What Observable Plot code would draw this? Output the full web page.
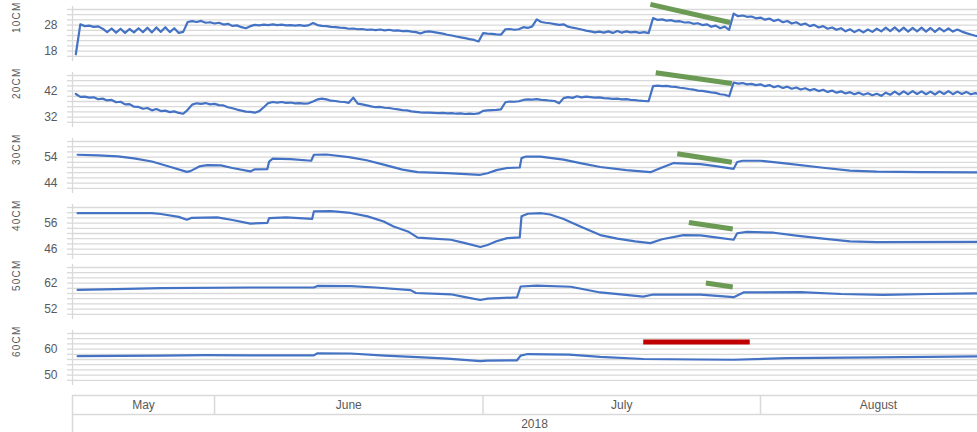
<!DOCTYPE html>
<html><head><meta charset="utf-8">
<script src="https://cdn.jsdelivr.net/npm/d3@7"></script>
<script src="https://cdn.jsdelivr.net/npm/@observablehq/plot@0.6"></script>
<style>
html,body{margin:0;padding:0;overflow:hidden;background:#fff;width:977px;height:432px}
#chart{position:relative;width:1000px;height:432px}
#chart svg{position:absolute;left:0}
</style></head><body><div id="chart"></div>
<script>
// ---------- data ----------
const depthLabels = ["10CM", "20CM", "30CM", "40CM", "50CM", "60CM"];
const yDomains = [[16, 34], [30, 48], [42, 60], [44, 62], [50, 68], [48, 66]];
const labelTicks = [[18, 28], [32, 42], [44, 54], [46, 56], [52, 62], [50, 60]];
const months = ["May", "June", "July", "August"];
const monthStarts = ["2018-05-01", "2018-06-01", "2018-07-01", "2018-08-01", "2018-09-01"];
const yearLabel = ["2018"];

// 10 CM, 12-hourly readings from 2018-05-16 12:00
const s10 = [
16.8, 28.3, 27.6, 27.8, 27.3, 27.5,
26.6, 25.3, 26.7, 25.1, 26.6, 25.0, 26.5, 25.2, 26.8, 25.3,
27.0, 25.2, 27.1, 25.4, 27.2, 25.3, 26.8, 25.0, 25.4,
29.2, 29.5, 29.2, 29.6, 28.9, 29.1, 28.6, 28.9, 28.2, 28.5,
27.7, 27.9, 27.2, 26.8, 27.6, 28.1, 27.9, 28.2, 28.0, 28.3,
28.0, 28.2, 27.9, 28.0, 27.8, 28.0, 27.7, 27.9, 28.8, 28.0,
27.7, 27.6, 27.3, 27.2, 27.0, 26.9, 26.6, 26.7, 26.4, 26.5,
26.2, 26.3, 26.1, 26.3, 26.0, 26.2, 25.9, 26.0, 25.7, 25.8,
25.5, 25.3, 24.8, 25.4, 25.6, 25.3, 25.0, 24.7, 24.3, 24.0,
23.6, 23.3, 23.0, 22.6, 22.3, 21.7, 24.9, 24.7, 24.6, 24.4,
24.3, 26.4, 26.5, 26.2, 26.4, 27.2, 26.9, 27.5, 30.2, 29.2,
28.9, 28.7, 28.4, 28.1, 28.3, 27.4, 27.0, 26.7, 26.3, 25.9,
25.6, 25.2, 25.5, 25.1, 25.6, 25.0, 25.7, 25.1, 25.6, 25.2,
25.4, 25.0, 25.3, 24.9, 30.7, 30.0, 30.2, 29.7, 29.9, 29.4,
29.5, 29.0, 29.1, 28.5, 28.7, 28.0, 28.3, 27.4, 27.8, 26.8,
27.4, 26.2, 32.4, 31.4, 31.7, 31.2, 31.3, 30.6, 30.9, 30.1,
30.5, 29.6, 30.1, 29.1, 29.6, 28.6, 29.1, 28.1, 28.6, 27.6,
28.1, 27.1, 27.6, 26.6, 27.1, 26.2, 26.8, 25.6, 26.4, 25.3,
26.2, 25.2, 26.3, 25.4, 26.6, 25.6, 27.0, 25.7, 27.1, 25.6,
27.0, 25.5, 26.9, 25.6, 27.0, 25.5, 26.9, 25.4, 26.8, 25.6,
26.7, 25.5, 26.3, 25.5, 24.9, 24.4, 23.9, 23.6
];
// 20 CM, 12-hourly readings from 2018-05-16 12:00
const s20 = [
40.9, 39.8, 39.9, 39.5, 39.6, 38.9,
39.1, 38.4, 38.6, 37.7, 37.9, 36.9, 37.0, 36.0, 35.9, 35.2,
35.5, 34.6, 35.1, 34.3, 34.5, 33.9, 34.2, 33.6, 33.3,
34.8, 36.8, 37.3, 37.1, 37.4, 36.9, 37.1, 36.6, 36.5, 35.8,
35.4, 34.9, 34.5, 34.1, 34.0, 33.7, 34.3, 35.8, 37.4, 37.8,
37.6, 37.8, 37.5, 37.6, 37.3, 37.4, 37.2, 37.3, 38.0, 38.8,
39.1, 38.8, 38.3, 38.2, 37.9, 37.8, 37.5, 39.5, 37.2, 36.9,
36.5, 36.1, 35.8, 35.9, 35.6, 35.5, 35.2, 35.0, 34.7, 34.6,
34.2, 34.0, 33.8, 33.7, 33.7, 33.6, 33.5, 33.6, 33.4, 33.5,
33.3, 33.4, 33.2, 33.3, 33.2, 33.4, 34.4, 34.6, 34.7, 34.8,
35.0, 37.7, 38.0, 37.9, 38.1, 38.6, 38.8, 38.7, 38.9, 38.6,
38.5, 38.3, 38.2, 37.3, 39.3, 39.7, 39.4, 40.0, 39.6, 39.9,
39.7, 39.5, 39.6, 39.3, 39.2, 39.0, 39.1, 38.8, 38.9, 38.6,
38.5, 38.3, 38.2, 38.1, 43.9, 44.1, 43.9, 44.0, 43.7, 43.6,
43.3, 43.1, 42.8, 42.6, 42.2, 42.1, 41.8, 41.5, 41.3, 40.8,
40.6, 40.0, 45.3, 44.9, 45.1, 44.6, 44.8, 44.3, 44.6, 43.9,
44.3, 43.5, 44.0, 43.2, 43.7, 42.9, 43.4, 42.6, 43.1, 42.3,
42.8, 42.0, 42.5, 41.7, 42.2, 41.4, 41.9, 41.1, 41.6, 40.8,
41.4, 40.6, 41.2, 40.4, 41.0, 40.2, 41.4, 40.6, 41.8, 40.7,
41.9, 40.8, 42.0, 40.9, 41.9, 40.8, 41.8, 40.7, 41.9, 40.9,
42.0, 40.8, 41.8, 40.9, 41.7, 40.8, 41.2, 40.7
];
// deeper sensors: reading times (days after 2018-05-16 00:00) and values
const s30_t = [0.7, 3, 5.2, 7, 9, 11, 12.9, 13.3, 14.3, 15.2, 16.7, 18, 20, 20.5, 21.9, 22.1, 22.5, 24.5, 26.8, 27.1, 28.5, 31, 33, 35, 37, 38.7, 42, 45.7, 46.5, 47.5, 48.7, 50.1, 50.3, 50.8, 52.4, 55, 57, 59.1, 62, 64.7, 66, 67.3, 70.3, 72, 74, 74.4, 75, 77, 80, 84, 87, 90, 95, 101.5];
const s30_v = [54.9, 54.7, 54.3, 53.5, 52.3, 50.3, 48.3, 48.6, 50.4, 50.9, 50.8, 49.8, 48.5, 49.3, 49.4, 52.3, 53.4, 53.2, 52.6, 54.9, 55.0, 54.0, 52.8, 51.0, 49.2, 48.2, 47.8, 47.2, 47.8, 49.0, 49.8, 50.0, 53.6, 54.2, 54.2, 53.0, 51.6, 50.2, 49.0, 48.2, 50.0, 51.7, 51.3, 50.5, 49.5, 52.1, 52.6, 52.6, 51.5, 49.9, 48.8, 48.4, 48.2, 48.1];
const s40_t = [0.7, 5, 9, 10, 12, 12.9, 13.4, 16.3, 18, 20, 21.9, 22.1, 24, 26.9, 27.1, 29, 31.2, 33.1, 34.9, 36, 37.6, 38.7, 40, 42.4, 44, 45.7, 46.5, 47.5, 48.7, 50.1, 50.3, 51, 52.5, 53.5, 55, 57, 59.1, 61, 63, 64.7, 66, 68.4, 70.3, 72, 74, 74.4, 75.5, 78.5, 81, 84, 87, 90, 101.5];
const s40_v = [59.8, 59.8, 59.8, 59.5, 58.4, 57.3, 58.0, 58.2, 57.2, 55.8, 56.1, 57.9, 58.2, 57.6, 60.5, 60.6, 59.9, 58.6, 56.6, 54.7, 52.8, 50.4, 50.1, 49.6, 48.3, 46.8, 47.6, 49.0, 50.2, 50.5, 58.6, 59.6, 59.8, 59.3, 57.6, 54.5, 51.4, 50.0, 49.0, 48.3, 49.8, 51.4, 51.3, 50.5, 49.6, 52.1, 52.6, 52.3, 51.2, 50.0, 49.0, 48.7, 48.8];
const s50_t = [0.7, 5, 10, 20, 27.1, 27.5, 31.2, 34, 37.9, 38.5, 42.4, 44, 45.7, 46.5, 49.8, 50.2, 52, 55.8, 59.1, 63.9, 65, 70.3, 74, 75.1, 81.5, 86, 90.7, 96, 101.5];
const s50_v = [59.4, 59.7, 60.1, 60.3, 60.3, 60.9, 60.8, 60.3, 59.3, 58.2, 57.7, 56.6, 55.5, 56.0, 56.5, 60.7, 61.0, 60.6, 58.4, 56.8, 57.6, 57.6, 56.6, 58.4, 58.5, 57.8, 57.5, 57.8, 58.1];
const s60_t = [0.7, 10, 15, 20, 27.1, 27.5, 31.2, 35, 38.7, 42, 45.7, 46.5, 49.8, 50.2, 51, 55.6, 59.1, 63.9, 70, 74, 80, 90, 101.5];
const s60_v = [57.3, 57.5, 57.7, 57.6, 57.6, 58.4, 58.3, 57.5, 56.9, 56.3, 55.4, 55.6, 55.7, 57.5, 58.1, 57.9, 57.0, 56.2, 56.0, 55.9, 56.5, 56.8, 57.2];

// trend markers drawn over each panel (days after 2018-05-16, values)
const trendT1 = [64.7, 65.3, 67.7, 69.0, 70.9, 63.9];
const trendT2 = [73.6, 73.8, 73.8, 73.9, 73.9, 75.8];
const trendV1 = [35.95, 49.05, 55.3, 56.25, 62.0, 62.7];
const trendV2 = [29.0, 44.9, 52.0, 53.7, 60.5, 62.7];
const trendColors = ["#6b9a55", "#6b9a55", "#6b9a55", "#6b9a55", "#6b9a55", "#c00000"];

// ---------- drawing ----------
const DAY = 864e5, T0 = Date.UTC(2018, 4, 16);
const toDate = d => new Date(T0 + d * DAY);
const xDomain = [toDate(0.13), toDate(103.37)];
const W = 1000, ML = 72, MR = 4;
const panelTops = [9, 75, 140.5, 206.5, 267, 333];
const PH = 46.8, MT = 10, MB = 8;
const GRID = "#d9d9d9", TXT = "#595959", BLUE = "#4472c4";
const FONT = "Liberation Sans, Arial, Helvetica, sans-serif";
const halfDays = n => d3.range(n).map(i => 0.5 + 0.5 * i);

const series = [
  {t: halfDays(s10.length), v: s10},
  {t: halfDays(s20.length), v: s20},
  {t: s30_t, v: s30_v},
  {t: s40_t, v: s40_v},
  {t: s50_t, v: s50_v},
  {t: s60_t, v: s60_v}
];

const chart = document.getElementById("chart");
const baseStyle = {fontFamily: FONT, fontSize: "12px", color: TXT, background: "transparent", maxWidth: "none"};

series.forEach((s, k) => {
  const data = s.t.map((t, i) => ({date: toDate(t), value: s.v[i]}));
  const [lo, hi] = yDomains[k];
  const grid = d3.range(lo, hi + 0.001, 2);
  const trend = [{x1: toDate(trendT1[k]), y1: trendV1[k], x2: toDate(trendT2[k]), y2: trendV2[k]}];
  const svg = Plot.plot({
    width: W, height: MT + PH + MB,
    marginLeft: ML, marginRight: MR, marginTop: MT, marginBottom: MB,
    x: {type: "utc", domain: xDomain, axis: null},
    y: {domain: [lo, hi], axis: null, label: null},
    style: baseStyle,
    marks: [
      Plot.gridY({ticks: grid, stroke: GRID, strokeOpacity: 1, strokeWidth: 1.3}),
      Plot.axisY({ticks: grid, tickSize: 5, tickFormat: () => "", stroke: GRID, strokeOpacity: 1, strokeWidth: 1.3, label: null}),
      Plot.axisY({ticks: labelTicks[k], tickSize: 0, tickPadding: 15, fontSize: 12, fill: TXT, label: null}),
      Plot.ruleX([xDomain[0]], {y1: lo - 2, y2: hi + 1.2, stroke: GRID, strokeWidth: 1.3}),
      Plot.text([depthLabels[k]], {frameAnchor: "left", dx: -56, rotate: -90, fontSize: 10, fill: TXT, text: d => d}),
      Plot.line(data, {x: "date", y: "value", stroke: BLUE, strokeWidth: 2.2}),
      Plot.link(trend, {x1: "x1", y1: "y1", x2: "x2", y2: "y2", stroke: trendColors[k], strokeWidth: 5})
    ]
  });
  d3.select(svg).selectAll("text")
    .filter(function() { return depthLabels.includes(this.textContent); })
    .attr("letter-spacing", "1.2px");
  svg.style.top = (panelTops[k] - MT) + "px";
  chart.appendChild(svg);
});

// bottom month / year axis
const ms = monthStarts.map(d => new Date(d + "T00:00:00Z"));
const mids = months.map((m, i) => {
  const a = Math.max(+ms[i], +xDomain[0]), b = Math.min(+ms[i + 1], +xDomain[1]);
  return new Date((a + b) / 2);
});
const inner = ms.filter(d => d > xDomain[0] && d < xDomain[1]);
const axisSvg = Plot.plot({
  width: W, height: 52,
  marginLeft: ML, marginRight: MR, marginTop: 15, marginBottom: 18,
  x: {type: "utc", domain: xDomain, axis: null},
  y: {domain: [0, 1], axis: null},
  style: baseStyle,
  marks: [
    Plot.ruleY([0, 1], {stroke: GRID, strokeWidth: 1.5}),
    Plot.ruleX(inner, {y1: 0, y2: 1, stroke: GRID, strokeWidth: 1.5}),
    Plot.ruleX([xDomain[0]], {y1: 1, y2: -2, stroke: GRID, strokeWidth: 1.5}),
    Plot.text(months, {x: (d, i) => mids[i], y: 0.5, text: d => d, fontSize: 12, fill: TXT}),
    Plot.text(yearLabel, {frameAnchor: "bottom", dy: 13, text: d => d, fontSize: 12, fill: TXT})
  ]
});
axisSvg.style.top = "380px";
chart.appendChild(axisSvg);
</script></body></html>
